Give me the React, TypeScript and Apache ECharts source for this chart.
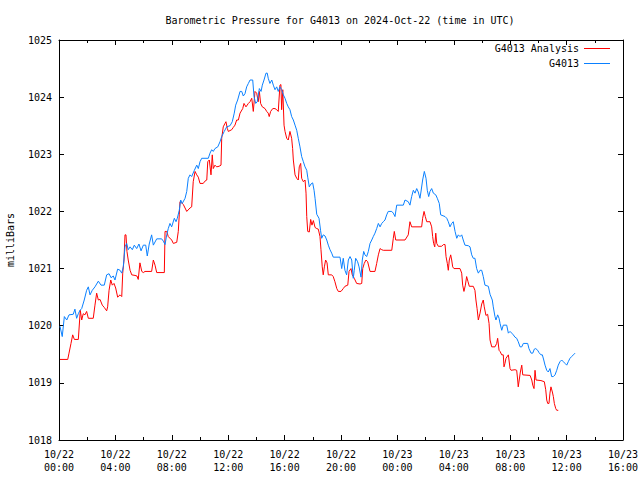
import React, { useEffect, useRef } from "react";
import * as echarts from "echarts";

// Time in hours since 2024-10-22 00:00 UTC
const analysisHours = [
  0.07, 0.62, 0.71, 0.85, 0.97, 1.09, 1.37, 1.51, 1.61, 1.72, 1.84, 1.96, 2.08, 2.43, 2.55, 2.67, 2.79, 2.91, 3.07, 3.21,
  3.38, 3.45, 3.55, 3.67, 3.78, 3.9, 4.02, 4.16, 4.33, 4.45, 4.52, 4.61, 4.68, 4.75, 4.82, 4.91, 5.04, 5.16, 5.39, 5.53,
  5.62, 5.74, 5.87, 5.98, 6.1, 6.57, 6.69, 6.81, 6.93, 7.47, 7.52, 7.64, 7.75, 7.99, 8.11, 8.35, 8.46, 8.53, 8.58, 8.7,
  8.82, 8.94, 9.06, 9.29, 9.41, 9.52, 9.65, 9.77, 9.88, 10.0, 10.23, 10.35, 10.48, 10.55, 10.66, 10.78, 10.87, 10.94, 11.06, 11.18,
  11.35, 11.49, 11.54, 11.65, 11.77, 11.84, 11.94, 12.01, 12.25, 12.36, 12.48, 12.6, 12.72, 12.84, 13.03, 13.12, 13.26, 13.43, 13.55, 13.67,
  13.78, 13.9, 14.02, 14.13, 14.21, 14.3, 14.42, 14.61, 14.73, 14.84, 14.91, 15.01, 15.16, 15.32, 15.44, 15.55, 15.67, 15.74, 15.79, 15.87,
  15.96, 16.03, 16.15, 16.26, 16.38, 16.5, 16.57, 16.62, 16.74, 16.86, 16.97, 17.04, 17.14, 17.21, 17.33, 17.45, 17.52, 17.57, 17.64, 17.75,
  17.85, 17.94, 18.04, 18.16, 18.28, 18.39, 18.51, 18.58, 18.67, 18.74, 18.82, 18.91, 19.01, 19.1, 19.34, 19.45, 19.57, 19.7, 19.81, 20.0,
  20.16, 20.28, 20.48, 20.57, 20.71, 20.8, 20.94, 21.11, 21.35, 21.47, 21.54, 21.65, 21.77, 21.89, 22.06, 22.41, 22.53, 22.65, 22.77, 22.89,
  23.0, 23.6, 23.71, 23.78, 23.88, 24.54, 24.77, 24.89, 25.01, 25.72, 25.79, 25.89, 25.98, 26.08, 26.31, 26.43, 26.5, 26.57, 26.65, 26.72,
  26.79, 26.9, 27.14, 27.26, 27.38, 27.45, 27.54, 27.61, 27.68, 27.78, 27.85, 27.92, 28.01, 28.44, 28.56, 28.63, 28.72, 28.82, 28.91, 29.01,
  29.1, 29.38, 29.5, 29.57, 29.65, 29.74, 29.86, 29.98, 30.09, 30.16, 30.28, 30.4, 30.5, 30.57, 30.69, 30.92, 31.04, 31.11, 31.21, 31.28,
  31.4, 31.51, 31.56, 31.63, 31.7, 31.87, 31.99, 32.06, 32.34, 32.46, 32.53, 32.57, 32.64, 32.72, 32.82, 32.89, 33.41, 33.53, 33.6, 33.69,
  33.76, 33.83, 34.18, 34.42, 34.52, 34.59, 34.66, 34.75, 34.82, 34.89, 34.99, 35.06, 35.13, 35.23, 35.3, 35.41,
];
const analysisValues = [
  1019.41, 1019.41, 1019.52, 1019.69, 1019.84, 1019.76, 1019.76, 1020.27, 1020.1, 1020.21, 1020.19, 1020.25, 1020.13, 1020.13, 1020.36, 1020.57, 1020.45, 1020.46, 1020.36, 1020.32,
  1020.26, 1020.33, 1020.62, 1020.8, 1020.71, 1020.74, 1020.66, 1020.5, 1020.54, 1020.51, 1020.92, 1021.15, 1021.59, 1021.59, 1021.3, 1021.15, 1020.97, 1020.89, 1020.88, 1020.87,
  1020.81, 1021.1, 1020.95, 1020.93, 1020.95, 1020.95, 1021.15, 1021.06, 1020.93, 1020.93, 1021.65, 1021.65, 1021.56, 1021.5, 1021.44, 1021.46, 1021.65, 1021.94, 1022.17, 1022.15,
  1022.12, 1022.06, 1022.0, 1022.06, 1022.08, 1022.52, 1022.7, 1022.64, 1022.6, 1022.49, 1022.49, 1022.53, 1022.55, 1022.87, 1022.9, 1022.64, 1022.99, 1022.75, 1022.81, 1022.78,
  1022.79, 1022.81, 1023.28, 1023.48, 1023.54, 1023.57, 1023.45, 1023.4, 1023.43, 1023.47, 1023.51, 1023.6, 1023.6, 1023.72, 1023.8, 1023.89, 1023.83, 1023.89, 1023.92, 1023.98,
  1023.75, 1024.1, 1024.07, 1023.92, 1024.1, 1023.89, 1023.83, 1023.8, 1023.75, 1023.72, 1023.66, 1023.75, 1023.8, 1023.8, 1023.78, 1023.75, 1024.21, 1024.22, 1023.78, 1024.13,
  1023.51, 1023.4, 1023.28, 1023.25, 1023.4, 1023.28, 1023.1, 1022.9, 1022.64, 1022.58, 1022.55, 1022.78, 1022.84, 1022.58, 1022.52, 1022.55, 1022.32, 1021.91, 1021.65, 1021.64,
  1021.86, 1021.76, 1021.84, 1021.72, 1021.7, 1021.69, 1021.56, 1021.33, 1021.03, 1020.89, 1021.03, 1021.15, 1021.1, 1020.89, 1020.89, 1020.86, 1020.77, 1020.65, 1020.6, 1020.6,
  1020.65, 1020.69, 1020.71, 1020.95, 1021.0, 1020.89, 1020.83, 1020.74, 1020.73, 1020.74, 1021.0, 1021.09, 1021.15, 1021.12, 1020.95, 1020.95, 1021.09, 1021.24, 1021.35, 1021.33,
  1021.32, 1021.32, 1021.53, 1021.65, 1021.5, 1021.5, 1021.59, 1021.82, 1021.73, 1021.73, 1021.88, 1022.0, 1021.91, 1021.82, 1021.82, 1021.73, 1021.56, 1021.44, 1021.38, 1021.62,
  1021.44, 1021.39, 1021.39, 1021.42, 1021.42, 1021.21, 1021.09, 1020.97, 1021.15, 1021.24, 1021.15, 1021.03, 1021.0, 1021.0, 1020.92, 1020.71, 1020.6, 1020.71, 1020.86, 1020.77,
  1020.69, 1020.69, 1020.62, 1020.45, 1020.3, 1020.1, 1020.22, 1020.38, 1020.45, 1020.33, 1020.18, 1020.2, 1020.04, 1019.75, 1019.63, 1019.63, 1019.69, 1019.78, 1019.57, 1019.55,
  1019.49, 1019.49, 1019.28, 1019.34, 1019.43, 1019.49, 1019.25, 1019.22, 1019.23, 1019.22, 1019.05, 1018.93, 1019.05, 1019.19, 1019.31, 1019.14, 1019.13, 1019.05, 1018.96, 1018.9,
  1019.22, 1019.05, 1019.04, 1019.02, 1018.88, 1018.7, 1018.64, 1018.64, 1018.82, 1018.93, 1018.84, 1018.76, 1018.64, 1018.55, 1018.52, 1018.52,
];

const stationHours = [
  0.07, 0.23, 0.38, 0.55, 0.71, 1.01, 1.13, 1.25, 1.37, 1.49, 1.61, 1.79, 1.96, 2.08, 2.2, 2.36, 2.55, 2.79, 2.98, 3.21,
  3.38, 3.55, 3.69, 3.85, 3.97, 4.16, 4.33, 4.45, 4.56, 4.68, 4.8, 4.91, 5.04, 5.2, 5.34, 5.51, 5.67, 5.82, 5.98, 6.15,
  6.26, 6.4, 6.57, 6.69, 6.93, 7.28, 7.4, 7.52, 7.64, 7.75, 7.87, 7.99, 8.18, 8.3, 8.39, 8.53, 8.63, 8.74, 8.94, 9.06,
  9.17, 9.29, 9.41, 9.6, 9.77, 9.88, 10.0, 10.12, 10.59, 10.71, 10.83, 10.94, 11.06, 11.26, 11.42, 11.54, 11.72, 11.89, 12.13, 12.29,
  12.43, 12.53, 12.67, 12.84, 12.96, 13.07, 13.19, 13.31, 13.43, 13.55, 13.74, 13.83, 13.95, 14.06, 14.21, 14.33, 14.42, 14.54, 14.68, 14.77,
  14.84, 14.96, 15.09, 15.2, 15.32, 15.44, 15.55, 15.67, 15.79, 15.91, 16.03, 16.15, 16.26, 16.38, 16.5, 16.62, 16.74, 16.86, 16.97, 17.09,
  17.21, 17.33, 17.45, 17.57, 17.64, 17.75, 17.87, 17.99, 18.09, 18.16, 18.28, 18.44, 18.55, 18.63, 18.74, 18.87, 18.99, 19.1, 19.22, 19.34,
  19.45, 19.93, 20.05, 20.16, 20.28, 20.4, 20.52, 20.64, 20.76, 20.87, 20.94, 21.04, 21.18, 21.28, 21.42, 21.51, 21.61, 21.7, 21.82, 21.94,
  22.06, 22.18, 22.29, 22.41, 22.53, 22.65, 22.77, 22.89, 23.0, 23.12, 23.24, 23.35, 23.6, 23.71, 23.83, 23.95, 24.42, 24.54, 24.77, 24.89,
  25.01, 25.13, 25.25, 25.37, 25.48, 25.6, 25.67, 25.79, 25.91, 26.03, 26.12, 26.22, 26.31, 26.43, 26.55, 26.72, 26.83, 26.97, 27.07, 27.38,
  27.5, 27.61, 27.73, 27.85, 27.96, 28.09, 28.21, 28.32, 28.44, 28.56, 28.67, 28.79, 29.03, 29.15, 29.27, 29.38, 29.5, 29.62, 29.74, 29.86,
  29.98, 30.09, 30.21, 30.45, 30.57, 30.73, 30.8, 30.92, 30.99, 31.11, 31.21, 31.28, 31.4, 31.51, 31.75, 31.87, 31.99, 32.11, 32.22, 32.34,
  32.46, 32.57, 32.7, 32.82, 32.93, 33.24, 33.33, 33.48, 33.6, 33.71, 33.81, 33.95, 34.04, 34.18, 34.28, 34.38, 34.47, 34.59, 34.7, 34.82,
  34.94, 35.06, 35.18, 35.3, 35.41, 35.53, 35.65, 35.77, 35.89, 36.01, 36.12, 36.24, 36.36, 36.48, 36.6,
];
const stationValues = [
  1019.99, 1019.81, 1020.16, 1020.1, 1020.19, 1020.2, 1020.29, 1020.13, 1020.21, 1020.27, 1020.3, 1020.45, 1020.62, 1020.68, 1020.54, 1020.62, 1020.68, 1020.78, 1020.71, 1020.71,
  1020.89, 1020.91, 1020.84, 1020.87, 1020.8, 1020.99, 1020.97, 1020.92, 1021.03, 1021.38, 1021.44, 1021.33, 1021.38, 1021.33, 1021.41, 1021.35, 1021.43, 1021.31, 1021.41, 1021.41,
  1021.22, 1021.43, 1021.59, 1021.41, 1021.52, 1021.52, 1021.48, 1021.42, 1021.59, 1021.7, 1021.79, 1021.73, 1021.88, 1021.82, 1021.88, 1022.02, 1022.2, 1022.14, 1022.23, 1022.35,
  1022.58, 1022.64, 1022.61, 1022.72, 1022.81, 1022.75, 1022.87, 1022.93, 1022.93, 1023.02, 1023.08, 1023.05, 1023.1, 1023.13, 1023.22, 1023.31, 1023.4, 1023.48, 1023.5, 1023.57,
  1023.72, 1023.86, 1023.95, 1024.1, 1024.1, 1024.02, 1024.06, 1024.18, 1024.24, 1024.3, 1024.3, 1024.01, 1023.89, 1023.92, 1024.15, 1024.1, 1024.21, 1024.3, 1024.42, 1024.42,
  1024.33, 1024.24, 1024.3, 1024.21, 1024.13, 1024.18, 1024.1, 1024.18, 1024.13, 1024.04, 1023.98, 1023.89, 1023.83, 1023.78, 1023.66, 1023.6, 1023.51, 1023.42, 1023.28, 1023.13,
  1022.96, 1022.87, 1022.78, 1022.72, 1022.6, 1022.43, 1022.48, 1022.5, 1022.37, 1022.23, 1021.95, 1021.88, 1021.67, 1021.53, 1021.59, 1021.57, 1021.5, 1021.41, 1021.33, 1021.27,
  1021.2, 1021.2, 1021.0, 1021.18, 1020.97, 1020.89, 1021.15, 1021.21, 1021.15, 1020.83, 1020.97, 1021.18, 1021.12, 1021.03, 1020.85, 1021.15, 1021.3, 1021.24, 1021.21, 1021.3,
  1021.44, 1021.5, 1021.56, 1021.62, 1021.7, 1021.79, 1021.73, 1021.79, 1021.82, 1021.85, 1021.94, 1022.0, 1022.0, 1021.97, 1021.91, 1022.11, 1022.11, 1022.2, 1022.17, 1022.11,
  1022.26, 1022.37, 1022.32, 1022.4, 1022.34, 1022.23, 1022.34, 1022.55, 1022.7, 1022.58, 1022.37, 1022.26, 1022.35, 1022.4, 1022.32, 1022.29, 1022.23, 1022.14, 1021.94, 1021.91,
  1021.88, 1021.82, 1021.73, 1021.79, 1021.82, 1021.65, 1021.53, 1021.59, 1021.56, 1021.59, 1021.5, 1021.41, 1021.4, 1021.38, 1021.24, 1021.18, 1021.18, 1021.0, 1020.92, 1020.97,
  1020.97, 1020.86, 1020.71, 1020.69, 1020.55, 1020.45, 1020.33, 1020.16, 1020.1, 1020.19, 1020.13, 1020.04, 1019.92, 1020.01, 1020.01, 1019.87, 1019.9, 1019.87, 1019.84, 1019.8,
  1019.78, 1019.72, 1019.63, 1019.63, 1019.69, 1019.69, 1019.6, 1019.52, 1019.52, 1019.59, 1019.6, 1019.57, 1019.53, 1019.49, 1019.49, 1019.4, 1019.31, 1019.22, 1019.19, 1019.25,
  1019.11, 1019.11, 1019.14, 1019.22, 1019.31, 1019.37, 1019.4, 1019.37, 1019.34, 1019.31, 1019.37, 1019.43, 1019.46, 1019.49, 1019.52,
];

const seriesNames = ["G4013 Analysis", "G4013"];
const seriesColors = ["#ff0000", "#0a80ff"];
const titleText = "Barometric Pressure for G4013 on 2024-Oct-22 (time in UTC)";
const yAxisName = "milliBars";
const xMin = 0;
const xMax = 40;
const xInterval = 4;
const yMin = 1018;
const yMax = 1025;
const yInterval = 1;
const startMonth = 10;
const startDay = 22;

const FONT = "'DejaVu Sans Mono', 'Liberation Mono', monospace";

function fmtX(v: number): string {
  const day = startDay + Math.floor(v / 24);
  const h = Math.round(v % 24);
  return `${startMonth}/${day}\n${String(h).padStart(2, "0")}:00`;
}

export default function App() {
  const ref = useRef<HTMLDivElement>(null);
  useEffect(() => {
    document.body.style.margin = "0";
    if (!ref.current) return;
    const chart = echarts.init(ref.current, null, { renderer: "svg" });
    const axisCommon = {
      type: "value" as const,
      axisLine: { show: true, onZero: false, lineStyle: { color: "#000", width: 1 } },
      axisTick: { show: true, inside: true, length: 5, lineStyle: { color: "#000" } },
      splitLine: { show: false },
    };
    chart.setOption({
      animation: false,
      backgroundColor: "#fff",
      title: {
        text: titleText,
        left: 340,
        top: 15,
        padding: 0,
        textAlign: "center",
        textStyle: { fontFamily: FONT, fontSize: 10, fontWeight: "normal", color: "#000" },
      },
      legend: {
        orient: "vertical",
        right: 30,
        top: 43,
        padding: 0,
        align: "right",
        icon: "rect",
        itemWidth: 26,
        itemHeight: 1,
        itemGap: 4,
        textStyle: { fontFamily: FONT, fontSize: 10, color: "#000", lineHeight: 11 },
        data: seriesNames,
      },
      grid: { left: 59, right: 17, top: 40, bottom: 40, containLabel: false, outerBoundsMode: "none" },
      xAxis: [
        {
          ...axisCommon,
          position: "bottom",
          min: xMin,
          max: xMax,
          interval: xInterval,
          minorTick: { show: true, splitNumber: 2, length: 3, lineStyle: { color: "#000" } },
          axisLabel: {
            show: true,
            margin: 8,
            fontFamily: FONT,
            fontSize: 10,
            color: "#000",
            lineHeight: 13,
            formatter: fmtX,
          },
        },
        {
          ...axisCommon,
          position: "top",
          min: xMin,
          max: xMax,
          interval: xInterval,
          minorTick: { show: true, splitNumber: 2, length: 3, lineStyle: { color: "#000" } },
          axisLabel: { show: false },
        },
      ],
      yAxis: [
        {
          ...axisCommon,
          position: "left",
          min: yMin,
          max: yMax,
          interval: yInterval,
          name: yAxisName,
          nameLocation: "middle",
          nameGap: 44,
          nameTextStyle: { fontFamily: FONT, fontSize: 10, color: "#000" },
          axisLabel: {
            show: true,
            margin: 7,
            fontFamily: FONT,
            fontSize: 10,
            color: "#000",
            formatter: (v: number) => String(v),
          },
        },
        {
          ...axisCommon,
          position: "right",
          min: yMin,
          max: yMax,
          interval: yInterval,
          axisLabel: { show: false },
        },
      ],
      series: [
        {
          name: seriesNames[0],
          type: "line",
          xAxisIndex: 0,
          yAxisIndex: 0,
          symbol: "none",
          showSymbol: false,
          color: seriesColors[0],
          lineStyle: { width: 1, color: seriesColors[0] },
          data: analysisHours.map((h, i) => [h, analysisValues[i]]),
        },
        {
          name: seriesNames[1],
          type: "line",
          xAxisIndex: 0,
          yAxisIndex: 0,
          symbol: "none",
          showSymbol: false,
          color: seriesColors[1],
          lineStyle: { width: 1, color: seriesColors[1] },
          data: stationHours.map((h, i) => [h, stationValues[i]]),
        },
      ],
    });
    return () => chart.dispose();
  }, []);
  return <div ref={ref} style={{ width: 640, height: 480 }} />;
}
